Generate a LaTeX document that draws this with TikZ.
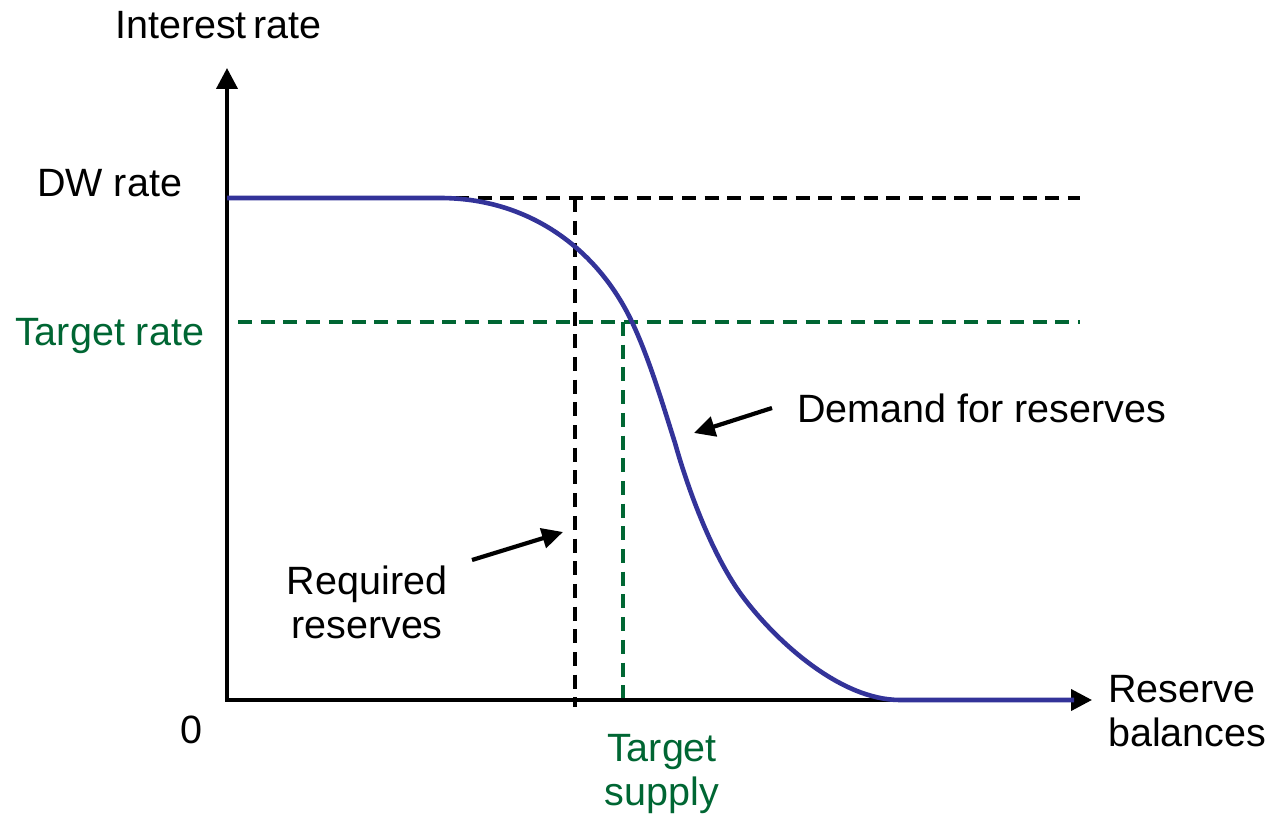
\documentclass[tikz,border=0pt]{standalone}
\usepackage{fontspec}
\setmainfont{Liberation Sans}
\usetikzlibrary{arrows.meta}
\definecolor{curveblue}{RGB}{51,51,153}
\definecolor{tgreen}{RGB}{0,102,51}
\begin{document}
\begin{tikzpicture}[x=1pt,y=-1pt,
  lbl/.style={inner sep=0pt, font=\fontsize{39.5}{44}\selectfont},
  axisline/.style={line width=4pt, -{Triangle[length=21pt,width=21pt]}},
  ptr/.style={line width=4.2pt, -{Triangle[length=21pt,width=20pt]}},
  dashblack/.style={line width=4.5pt, black, dash pattern=on 14pt off 8.7pt},
  dashgreen/.style={line width=4.5pt, tgreen, dash pattern=on 14pt off 8.7pt},
  demand/.style={line width=4.6pt, curveblue}]
\useasboundingbox (0,0) rectangle (1274,818);
% coordinates
\coordinate (O) at (227,700);
\coordinate (ytop) at (227,68);
\coordinate (xend) at (1092,700);
\coordinate (dwL) at (455,198);
\coordinate (dwR) at (1080,198);
\coordinate (tgL) at (238,322);
\coordinate (tgR) at (1080,322);
\coordinate (rrT) at (575,198);
\coordinate (rrB) at (575,707);
\coordinate (tsT) at (623,322);
\coordinate (tsB) at (623,698);
% dashed guides
\draw[dashblack] (dwL) -- (dwR);
\draw[dashblack] (rrT) -- (rrB);
\draw[dashgreen] (tgL) -- (tgR);
\draw[dashgreen] (tsT) -- (tsB);
% axes
\draw[axisline] (O) -- (ytop);
\draw[axisline] (O) -- (xend);
\fill (225,698) rectangle (229,702);
% demand curve
\draw[demand] (227,198) -- (440,198)
  .. controls (530,198) and (598,250) .. (632,322)
  .. controls (649,358) and (663,405) .. (675,443)
  .. controls (688.5,491) and (713,557) .. (743,597)
  .. controls (776,641) and (840,700) .. (900,700)
  -- (1074,700);
% labels
\node[lbl, anchor=base west] (ylab) at (115,39) {Interest\,rate};
\node[lbl, anchor=base west] (dw) at (37,197) {DW rate};
\node[lbl, anchor=base west, text=tgreen] (tr) at (15,345) {Target rate};
\node[lbl, anchor=base] (zero) at (191,743) {0};
\node[lbl, anchor=base west, align=left] (xlab) at (1108,746) {Reserve\\balances};
\node[lbl, anchor=base, align=center, text=tgreen] (ts) at (662,805) {Target\\supply};
\node[lbl, anchor=base, align=center] (rr) at (367,638) {Required\\reserves};
\node[lbl, anchor=base west] (dem) at (797,422) {Demand for reserves};
% pointers
\coordinate (demTip) at (694,433);
\coordinate (demTail) at (772,408);
\coordinate (rrTip) at (563,532);
\coordinate (rrTail) at (472,560);
\draw[ptr] (demTail) -- (demTip);
\draw[ptr] (rrTail) -- (rrTip);
\end{tikzpicture}
\end{document}
